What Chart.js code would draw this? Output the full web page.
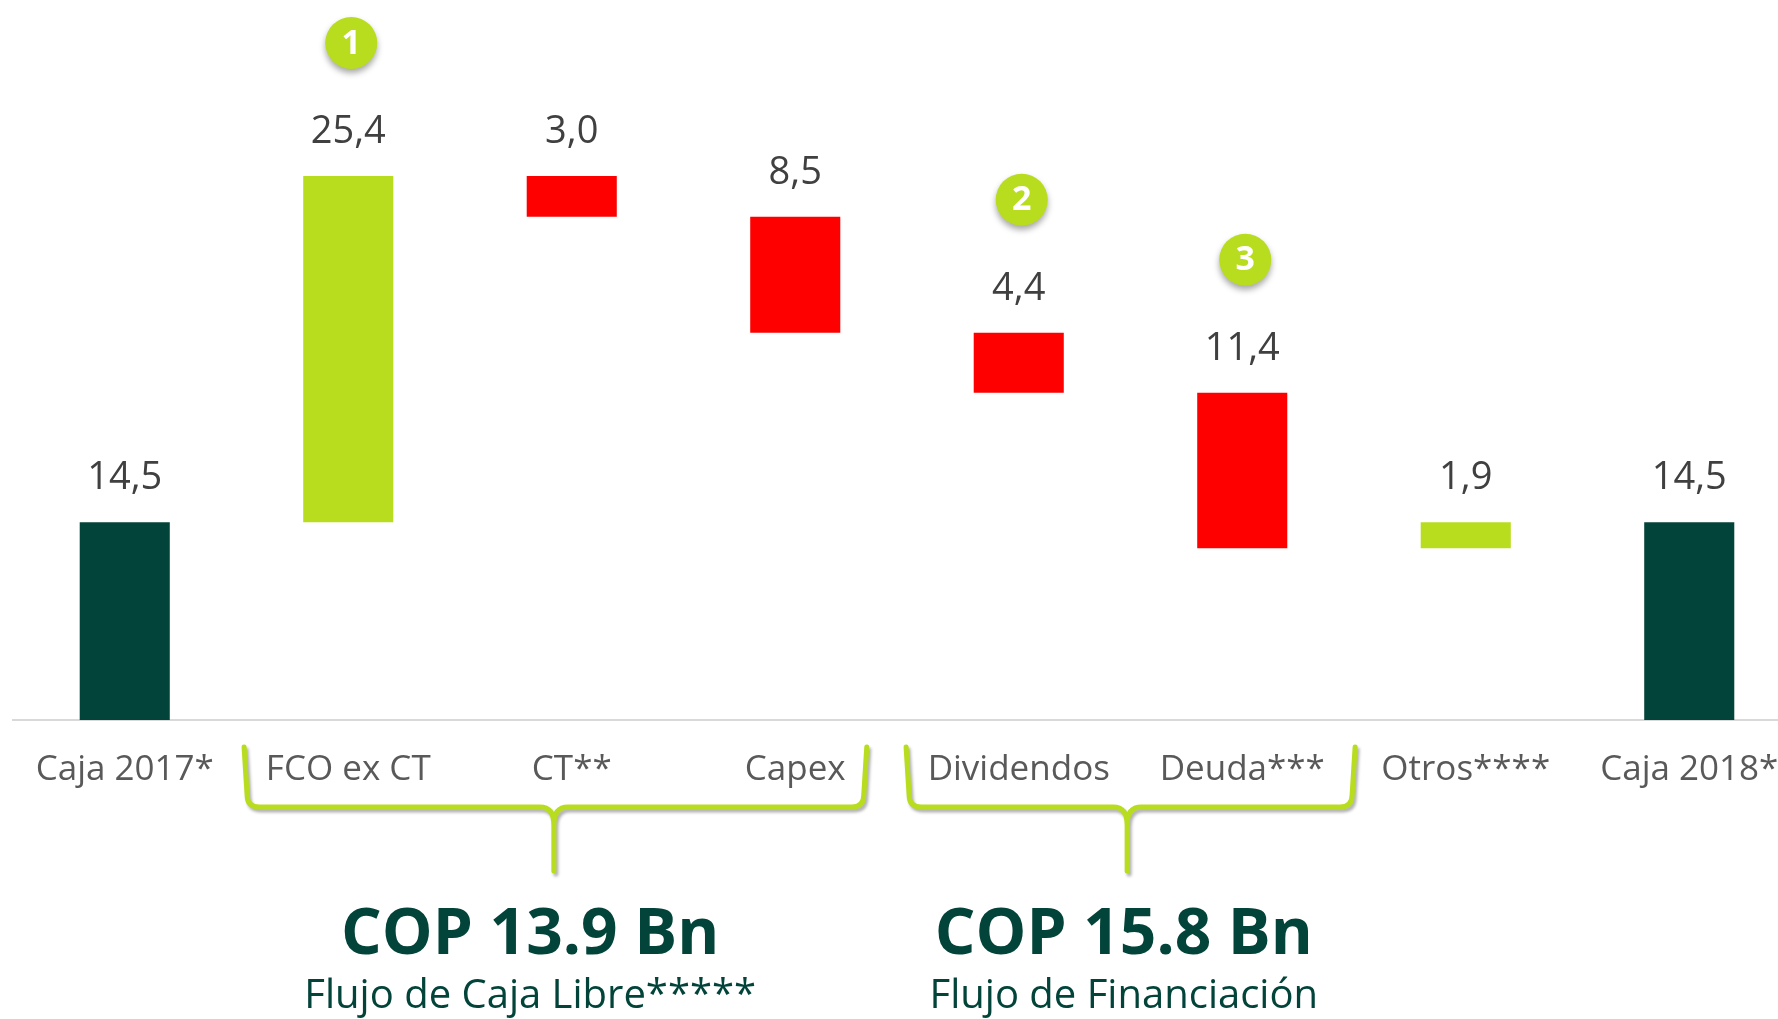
<!DOCTYPE html>
<html>
<head>
<meta charset="utf-8">
<script src="https://cdn.jsdelivr.net/npm/chart.js@4.4.1/dist/chart.umd.min.js"></script>
<style>
    html, body { margin: 0; padding: 0; background: #ffffff; overflow: hidden; }
    #wrap { width: 1820px; height: 1019px; }
</style>
</head>
<body>
<div id="wrap"><canvas id="cashChart" width="1820" height="1019"></canvas></div>
<script>
// Waterfall data (COP billones)
const categories = ['Caja 2017*', 'FCO ex CT', 'CT**', 'Capex', 'Dividendos', 'Deuda***', 'Otros****', 'Caja 2018*'];
const amounts = [14.5, 25.4, -3.0, -8.5, -4.4, -11.4, 1.9, 14.5];
const isTotal = [true, false, false, false, false, false, false, true];

// Numbered markers above bars
const markerLabels = ['1', '2', '3'];
const markerBars = [1, 4, 5];

// Group summaries below the axis
const groupTitles = ['COP 13.9 Bn', 'COP 15.8 Bn'];
const groupSubtitles = ['Flujo de Caja Libre*****', 'Flujo de Financiación'];

const DARK = '#03443A';
const LIME = '#B8DC1E';
const RED = '#FF0000';
const FONT = "'Open Sans', sans-serif";

// Build floating ranges for the waterfall
const ranges = [];
const barColors = [];
let running = 0;
amounts.forEach((v, i) => {
    if (isTotal[i]) {
        ranges.push([0, v]);
        running = v;
        barColors.push(DARK);
    } else {
        ranges.push([running, running + v]);
        running += v;
        barColors.push(v >= 0 ? LIME : RED);
    }
});

const formatValue = v => Math.abs(v).toFixed(1).replace('.', ',');

// Brace geometry in category units, per group
const braces = [
    { from: 0.534, to: 3.32, tipAt: 1.92, textAt: 1.814 },
    { from: 3.496, to: 5.505, tipAt: 4.485, textAt: 4.47 }
];

function drawBrace(ctx, x0, x1, xc, top, mid, tip) {
    const r = 12;
    ctx.beginPath();
    ctx.moveTo(x0, top);
    ctx.lineTo(x0 + 3, mid - r);
    ctx.quadraticCurveTo(x0 + 3, mid, x0 + 3 + r, mid);
    ctx.lineTo(xc - 14, mid);
    ctx.quadraticCurveTo(xc, mid, xc, mid + 18);
    ctx.lineTo(xc, tip);
    ctx.moveTo(x1, top);
    ctx.lineTo(x1 - 3, mid - r);
    ctx.quadraticCurveTo(x1 - 3, mid, x1 - 3 - r, mid);
    ctx.lineTo(xc + 14, mid);
    ctx.quadraticCurveTo(xc, mid, xc, mid + 18);
    ctx.stroke();
}

const decorPlugin = {
    id: 'waterfallDecor',
    afterDatasetsDraw(chart) {
        const ctx = chart.ctx;
        const meta = chart.getDatasetMeta(0);
        const xScale = chart.scales.x;
        const bottom = chart.chartArea.bottom;

        // value labels
        ctx.save();
        ctx.fillStyle = '#404040';
        ctx.font = `38px ${FONT}`;
        ctx.textAlign = 'center';
        ctx.textBaseline = 'alphabetic';
        meta.data.forEach((bar, i) => {
            const top = Math.min(bar.y, bar.base);
            ctx.fillText(formatValue(amounts[i]), bar.x, top - 33);
        });
        ctx.restore();

        // numbered markers
        markerBars.forEach((idx, k) => {
            const bar = meta.data[idx];
            const top = Math.min(bar.y, bar.base);
            const cx = bar.x + 3;
            const cy = top - 133;
            ctx.save();
            ctx.shadowColor = 'rgba(0,0,0,0.35)';
            ctx.shadowBlur = 6;
            ctx.shadowOffsetY = 4;
            ctx.fillStyle = LIME;
            ctx.beginPath();
            ctx.arc(cx, cy, 26, 0, Math.PI * 2);
            ctx.fill();
            ctx.restore();
            ctx.save();
            ctx.fillStyle = '#ffffff';
            ctx.font = `bold 34px ${FONT}`;
            ctx.textAlign = 'center';
            ctx.textBaseline = 'middle';
            ctx.fillText(markerLabels[k], cx, cy + 1);
            ctx.restore();
        });

        // braces and group summaries
        braces.forEach((b, g) => {
            const x0 = xScale.getPixelForValue(b.from);
            const x1 = xScale.getPixelForValue(b.to);
            const xc = xScale.getPixelForValue(b.tipAt);
            const xt = xScale.getPixelForValue(b.textAt);
            ctx.save();
            ctx.strokeStyle = LIME;
            ctx.lineWidth = 5;
            ctx.lineCap = 'round';
            ctx.lineJoin = 'round';
            ctx.shadowColor = 'rgba(0,0,0,0.3)';
            ctx.shadowBlur = 3;
            ctx.shadowOffsetX = 2;
            ctx.shadowOffsetY = 3;
            drawBrace(ctx, x0, x1, xc, bottom + 27, bottom + 87, bottom + 151);
            ctx.restore();

            ctx.save();
            ctx.fillStyle = DARK;
            ctx.textAlign = 'center';
            ctx.textBaseline = 'alphabetic';
            ctx.font = `bold 64px ${FONT}`;
            ctx.fillText(groupTitles[g], xt, bottom + 234);
            ctx.font = `40px ${FONT}`;
            ctx.fillText(groupSubtitles[g], xt, bottom + 288);
            ctx.restore();
        });
    }
};

const chart = new Chart(document.getElementById('cashChart').getContext('2d'), {
    type: 'bar',
    data: {
        labels: categories,
        datasets: [{
            data: ranges,
            backgroundColor: barColors,
            borderWidth: 0,
            categoryPercentage: 1,
            barPercentage: 0.403
        }]
    },
    options: {
        responsive: false,
        animation: false,
        layout: {
            padding: { top: 0, left: 13, right: 19, bottom: 199 }
        },
        plugins: {
            legend: { display: false },
            tooltip: { enabled: false }
        },
        scales: {
            x: {
                offset: true,
                grid: { display: false, drawTicks: false },
                border: { display: true, color: '#D9D9D9', width: 2 },
                ticks: {
                    color: '#595959',
                    font: { family: FONT, size: 35 },
                    padding: 29,
                    autoSkip: false,
                    maxRotation: 0
                }
            },
            y: {
                display: false,
                min: 0,
                max: 52.8
            }
        }
    },
    plugins: [decorPlugin]
});
</script>
</body>
</html>
